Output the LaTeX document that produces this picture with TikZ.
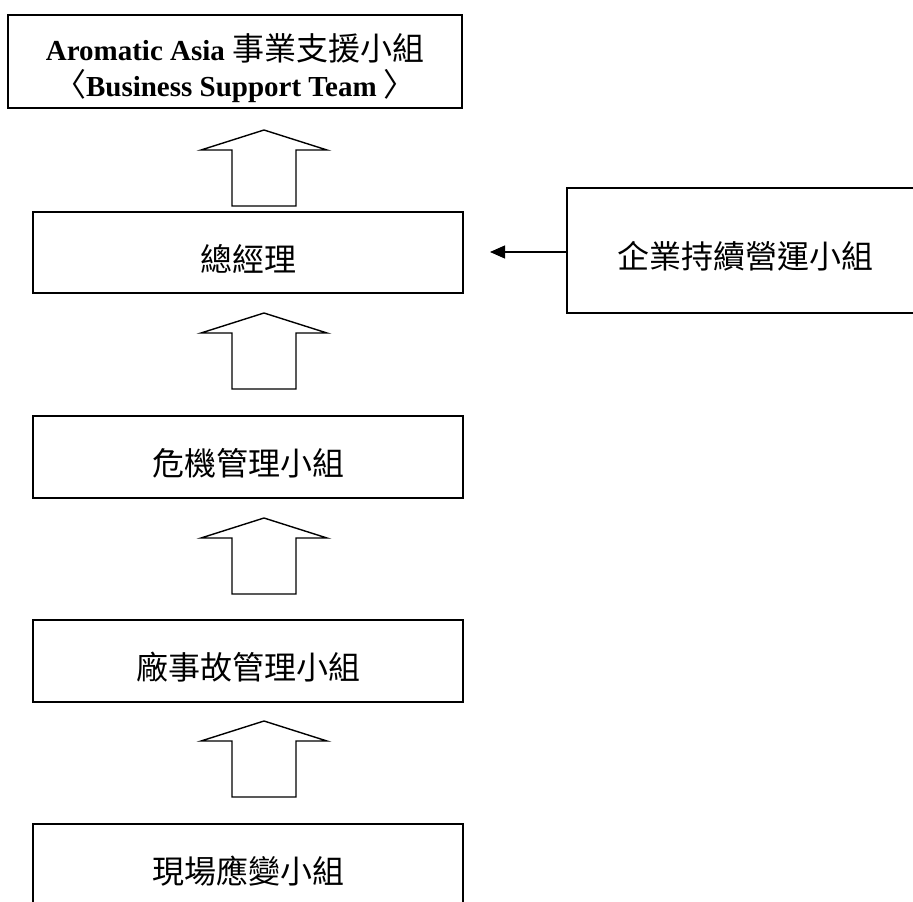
\documentclass[tikz,border=0pt]{standalone}
\usepackage{fontspec}
\setmainfont{Liberation Serif}
\newfontfamily\cjk{Noto Sans CJK TC}
\usetikzlibrary{arrows.meta}

\tikzset{
  team/.style={draw,line width=1.4pt,rectangle,inner sep=0pt},
  teamtext/.style={yshift=-6pt,font=\cjk\fontsize{32}{38}\selectfont},
  headtext/.style={anchor=base,font=\bfseries\fontsize{29}{30}\selectfont},
  blockup/.style={draw,line width=1.4pt,line join=miter},
}
\newcommand{\hancjk}{\cjk\mdseries\fontsize{32}{38}\selectfont}
% hollow up arrow, tip at (#1,#2)
\newcommand{\uparrowbox}[2]{%
  \draw[blockup] (#1,#2) -- ++(63,20) -- ++(-31,0) -- ++(0,56)
    -- ++(-64,0) -- ++(0,-56) -- ++(-31,0) -- cycle;}

\begin{document}
\begin{tikzpicture}[x=1pt,y=-1pt]
\useasboundingbox (0,0) rectangle (913,902);
\clip (0,0) rectangle (913,902);
%---------------- boxes
\node[team,minimum width=454pt,minimum height=93pt] (support) at (235,61.5) {};
\node[headtext] (supportA) at (235,60)
  {Aromatic Asia {\hancjk 事業支援小組}};
\node[headtext] (supportB) at (235,96)
  {{\hancjk 〈}Business Support Team {\hancjk 〉}};

\node[team,minimum width=430pt,minimum height=81pt,
  label={[teamtext]center:總經理}] (gm) at (248,252.5) {};
\node[team,minimum width=430pt,minimum height=82pt,
  label={[teamtext]center:危機管理小組}] (crisis) at (248,457) {};
\node[team,minimum width=430pt,minimum height=82pt,
  label={[teamtext]center:廠事故管理小組}] (plant) at (248,661) {};
\node[team,minimum width=430pt,minimum height=82pt,
  label={[teamtext]center:現場應變小組}] (site) at (248,865) {};
\node[team,minimum width=357pt,minimum height=125pt,
  label={[teamtext]center:企業持續營運小組}] (bcm) at (745.5,250.5) {};

%---------------- reporting arrows
\uparrowbox{264}{130}
\uparrowbox{264}{313}
\uparrowbox{264}{518}
\uparrowbox{264}{721}

% side link into the general manager
\coordinate (gmin) at (490,252);
\draw[-{Triangle[length=15pt,width=13pt]},line width=1.2pt] (bcm.west |- gmin) -- (gmin);
\end{tikzpicture}
\end{document}
